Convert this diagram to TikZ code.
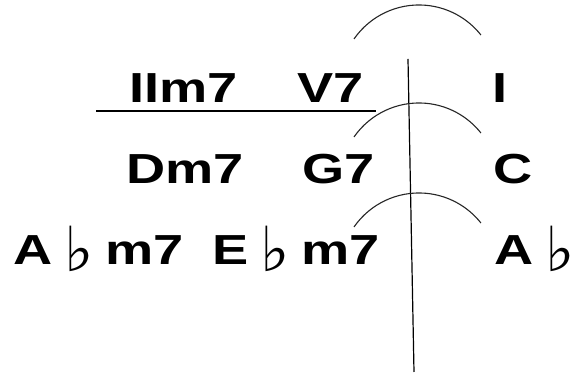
\documentclass[tikz,border=0pt]{standalone}
\usepackage{fontspec}
\usepackage{graphicx}
\newfontfamily\chordfont{Liberation Sans Bold}[FakeStretch=1.29]
\newfontfamily\flatfont{DejaVu Sans}
\newcommand{\flsym}{\raisebox{-7pt}{\scalebox{2.07}{\flatfont\fontsize{30}{30}\selectfont ♭}}}
\newcommand{\fl}{\makebox[53pt]{\flsym}}
\begin{document}
\begin{tikzpicture}[x=1pt,y=1pt,
  chord/.style={font=\chordfont\fontsize{42}{42}\selectfont, inner sep=0pt, anchor=base west},
  tie/.style={line width=1.1pt, black!85},
  bar/.style={line width=1.2pt}]
\useasboundingbox (0,0) rectangle (571,374);
% row 1
\node[chord] (r1a) at (129,271) {IIm7};
\node[chord] (r1b) at (297,271) {V7};
\node[chord] (r1c) at (492,271) {I};
% row 2
\node[chord] (r2a) at (126,190) {Dm7};
\node[chord] (r2b) at (302,190) {G7};
\node[chord] (r2c) at (493,190) {C};
% row 3
\node[chord] (r3a) at (13,109) {A\fl m7};
\node[chord] (r3b) at (212,109) {E\fl m7};
\node[chord] (r3c) at (494,109) {A\fl};
% underline
\coordinate (u1) at (96,263);
\coordinate (u2) at (376,263);
\draw[line width=1.6pt] (u1) -- (u2);
% vertical bar
\coordinate (v1) at (408,315);
\coordinate (v2) at (414,2);
\draw[bar] (v1) -- (v2);
% ties
\coordinate (t1) at (354,335);
\coordinate (t2) at (354,237);
\coordinate (t3) at (354,147);
\draw[tie] (t1) arc[start angle=145.3, end angle=38.3, radius=79];
\draw[tie] (t2) arc[start angle=145.3, end angle=38.3, radius=79];
\draw[tie] (t3) arc[start angle=145.3, end angle=38.3, radius=79];
\end{tikzpicture}
\end{document}
